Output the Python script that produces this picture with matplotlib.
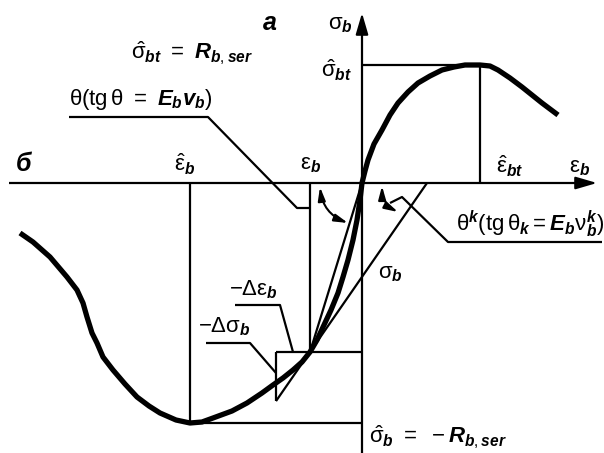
import numpy as np
import matplotlib.pyplot as plt

plt.rcParams['mathtext.fontset'] = 'custom'
plt.rcParams['mathtext.rm'] = 'Liberation Sans'
plt.rcParams['mathtext.it'] = 'Liberation Sans:italic:bold'
plt.rcParams['mathtext.bf'] = 'Liberation Sans:bold'

# stress-strain diagram, strain to the right, stress up, origin where the axes cross
eps = [-342, -329, -312, -295, -285, -279, -275, -270, -265, -259, -249, -237, -225,
       -213, -202, -186, -172, -160, -149, -130, -115, -100, -89, -79, -69, -60, -52,
       -45, -38, -31, -24, -19, -14, -9, -5, -2, 0, 3, 6, 12, 20, 28, 36, 46, 56, 68,
       80, 92, 103, 118, 128, 136, 148, 160, 170, 180, 188, 196]
sig = [-50, -59, -74, -94, -107, -120, -134, -150, -160, -174, -187, -201, -214,
       -223, -230, -237, -240, -239, -235, -228, -220, -210, -202, -195, -187, -179, -169,
       -157, -142, -127, -110, -94, -77, -57, -37, -17, 0, 12, 23, 39, 53, 68, 80, 91, 100, 107,
       113, 116, 118, 118, 117, 113, 105, 96, 88, 80, 74, 68]

eps_hat_bt, sig_hat_bt = 118, 118    # peak in tension
eps_hat_b, sig_hat_b = -172, -240    # peak in compression
eps_p, sig_p = -52, -169             # point where the moduli are taken
eps_d = -86                          # left edge of the increment triangle
eps_k0 = 65                          # tangent meets the strain axis

slope_k = (0 - sig_p) / (eps_k0 - eps_p)
sig_d = sig_p + (eps_d - eps_p) * slope_k

fig = plt.figure(figsize=(6.04, 4.53), dpi=100)
ax = fig.add_axes([0, 0, 1, 1])
ax.set_xlim(-362, 242)
ax.set_ylim(-270, 183)
ax.axis('off')

thin = dict(color='black', lw=1.6, solid_capstyle='butt')

# axes with arrows
ax.plot([-353, 225], [0, 0], **thin)
ax.plot([0, 0], [-270, 160], **thin)
arr = dict(arrowstyle='-|>,head_length=1.3,head_width=0.38', color='black', lw=1.5,
           mutation_scale=10, shrinkA=0, shrinkB=0)
ax.annotate('', xy=(235, 0), xytext=(215, 0), arrowprops=arr)
ax.annotate('', xy=(0, 170), xytext=(0, 150), arrowprops=arr)

# the curve
ax.plot(eps, sig, color='black', lw=3.8, solid_joinstyle='round', solid_capstyle='butt')

# peak lines
ax.plot([0, eps_hat_bt, eps_hat_bt], [sig_hat_bt, sig_hat_bt, 0], **thin)
ax.plot([eps_hat_b, eps_hat_b], [0, sig_hat_b], **thin)
ax.plot([eps_hat_b, 0], [sig_hat_b, sig_hat_b], **thin)

# point, secant, tangent, increment triangle
ax.plot([eps_p, eps_p], [0, sig_p], **thin)
ax.plot([eps_d, 0], [sig_p, sig_p], **thin)
ax.plot([eps_d, eps_d], [sig_p, sig_d], **thin)
ax.plot([eps_p, 0], [sig_p, 0], **thin)
ax.plot([eps_d, eps_k0], [sig_d, 0], **thin)

# leaders
ax.plot([-293, -154, -65, -51], [66, 66, -25, -25], **thin)
ax.plot([240, 86, 40, 28], [-59, -59, -14, -20], **thin)
ax.plot([-127, -82, -69], [-122, -122, -169], **thin)
ax.plot([-156, -112, -86], [-160, -160, -190], **thin)

# angle arcs
arc = dict(arrowstyle='<|-|>,head_length=0.8,head_width=0.22', color='black', lw=1.5,
           mutation_scale=10, shrinkA=0, shrinkB=0, connectionstyle='arc3,rad=0.3')
ax.annotate('', xy=(-14, -40), xytext=(-42, -4), arrowprops=arc)
ax.annotate('', xy=(36, -29), xytext=(20, -3), arrowprops=arc)

fs = 16
txt = dict(fontsize=fs, ha='center', va='center')
ax.text(-92, 160, 'а', fontsize=18, fontstyle='italic', fontweight='bold',
        family='Liberation Sans', ha='center', va='center')
ax.text(-338, 19, 'б', fontsize=18, fontstyle='italic', fontweight='bold',
        family='Liberation Sans', ha='center', va='center')
ax.text(-170, 130, r'$\hat{\mathrm{\sigma}}_{bt}\ =\ R_{b,ser}$', **txt)
ax.text(-221, 83, r'$\mathrm{\theta(tg\,\theta}\ =\ E_b v_b\mathrm{)}$', **txt)
ax.text(-177, 19, r'$\hat{\mathrm{\varepsilon}}_b$', **txt)
ax.text(-51, 18, r'$\mathrm{\varepsilon}_b$', **txt)
ax.text(-22, 158, r'$\mathrm{\sigma}_b$', **txt)
ax.text(-25, 113, r'$\hat{\mathrm{\sigma}}_{bt}$', **txt)
ax.text(148, 17, r'$\hat{\mathrm{\varepsilon}}_{bt}$', **txt)
ax.text(218, 15, r'$\mathrm{\varepsilon}_b$', **txt)
ax.text(168, -41, r'$\mathrm{\theta}^k\mathrm{(tg\,\theta}_k = E_b\mathrm{\nu}_b^k\mathrm{)}$', **txt)
ax.text(28, -91, r'$\mathrm{\sigma}_b$', **txt)
ax.text(-108, -107, r'$-\Delta\mathrm{\varepsilon}_b$', **txt)
ax.text(-138, -144, r'$-\Delta\mathrm{\sigma}_b$', **txt)
ax.text(76, -254, r'$\hat{\mathrm{\sigma}}_b\ =\ -R_{b,ser}$', **txt)

fig.savefig('out.png', dpi=100)
